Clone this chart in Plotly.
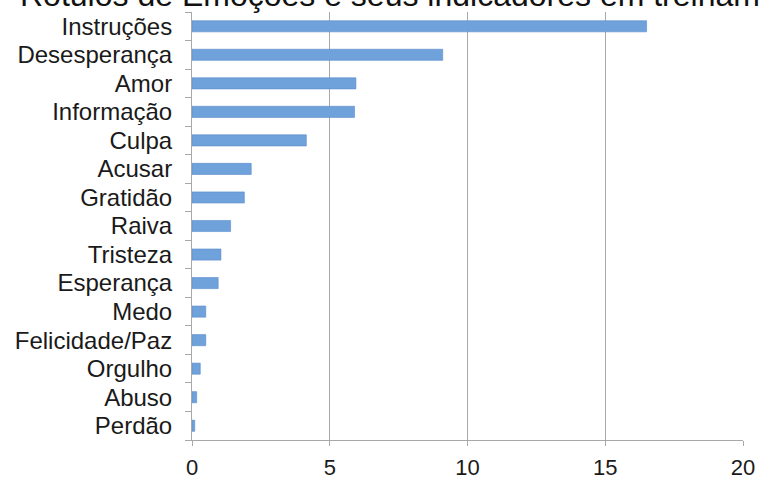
import plotly.graph_objects as go

# Emotion labels, top to bottom, and the count of indicators for each
categories = [
    "Instruções", "Desesperança", "Amor", "Informação", "Culpa", "Acusar",
    "Gratidão", "Raiva", "Tristeza", "Esperança", "Medo", "Felicidade/Paz",
    "Orgulho", "Abuso", "Perdão",
]
values = [16.5, 9.1, 5.95, 5.9, 4.15, 2.15, 1.9, 1.4, 1.05, 0.95, 0.5, 0.5, 0.3, 0.17, 0.1]

x_ticks = [0, 5, 10, 15, 20]
title_text = "Rótulos de Emoções e seus indicadores em treinamento"

FONT = "Liberation Sans, Arial, sans-serif"
GRID = "#A8A8A8"

fig = go.Figure(
    go.Bar(
        x=values,
        y=categories,
        orientation="h",
        marker=dict(color="#6FA1DB", line=dict(color="#5A8CCB", width=0.6)),
        hoverinfo="x+y",
    )
)

fig.update_layout(
    width=759,
    height=482,
    margin=dict(l=192, r=16, t=12, b=42, autoexpand=False),
    paper_bgcolor="white",
    plot_bgcolor="white",
    bargap=0.61,
    showlegend=False,
    font=dict(family=FONT, size=24, color="#1a1a1a"),
    title=dict(
        text=title_text,
        x=20 / 759,
        xanchor="left",
        xref="container",
        y=1 - 6 / 482,
        yanchor="bottom",
        yref="container",
        font=dict(family=FONT, size=32, color="#111"),
        pad=dict(t=0, b=0, l=0, r=0),
    ),
)

fig.update_xaxes(
    range=[0, 20],
    tickmode="array",
    tickvals=x_ticks,
    ticktext=[str(v) for v in x_ticks],
    showgrid=True,
    gridcolor=GRID,
    gridwidth=1,
    showline=True,
    linecolor=GRID,
    linewidth=1,
    ticks="outside",
    ticklen=5,
    tickcolor=GRID,
    ticklabelstandoff=3,
    zeroline=False,
    automargin=False,
    tickfont=dict(size=22, color="#1a1a1a"),
)

fig.update_yaxes(
    autorange="reversed",
    tickmode="array",
    tickvals=categories,
    ticktext=categories,
    showgrid=False,
    showline=True,
    linecolor=GRID,
    linewidth=1,
    ticks="outside",
    ticklen=6,
    tickcolor=GRID,
    tickson="boundaries",
    ticklabelstandoff=14,
    automargin=False,
    tickfont=dict(size=24, color="#1a1a1a"),
)

fig.write_html("out.html")
